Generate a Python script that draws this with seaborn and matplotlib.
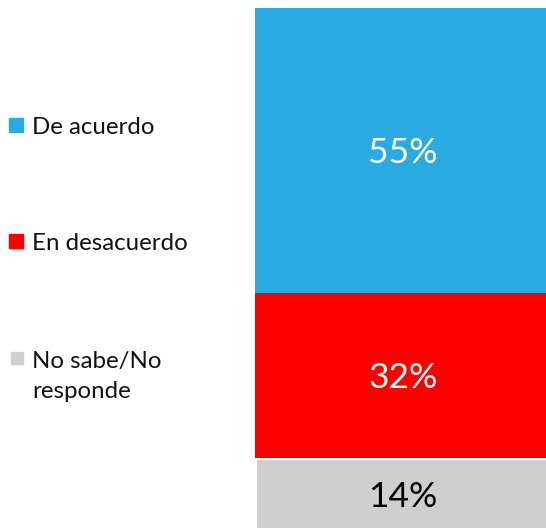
import numpy as np
import matplotlib
matplotlib.use("Agg")
import matplotlib.pyplot as plt
import seaborn as sns
from matplotlib.patches import Rectangle

# data (top of the bar first)
categories = ["De acuerdo", "En desacuerdo", "No sabe/No\nresponde"]
values = [55, 32, 14]
labels = ["55%", "32%", "14%"]
colors = ["#29ABE2", "#FF0000", "#CFCFCF"]
label_colors = ["white", "white", "black"]

sns.set_style("white")
plt.rcParams["font.family"] = ["Lato", "DejaVu Sans"]

fig = plt.figure(figsize=(5.46, 5.28), dpi=100)
ax = fig.add_axes([0, 0, 1, 1])

# stack from the bottom up: gray, red, blue
order = list(range(len(values)))[::-1]
bottom = 0
for i in order:
    edge = "white" if i == 2 else "none"
    lw = 2.2 if i == 2 else 0
    sns.barplot(x=[""], y=[values[i]], bottom=bottom, color=colors[i],
                saturation=1, width=0.8, edgecolor=edge, linewidth=lw, ax=ax)
    ax.text(0, bottom + values[i] / 2 - 0.5, labels[i], ha="center", va="center",
            color=label_colors[i], fontsize=25.5)
    bottom += values[i]

ax.set_xlim(-1.089, 0.3865)
ax.set_ylim(0.46, 102.59)
ax.axis("off")

# legend drawn by hand, in pixel coordinates of the figure
W, H = 546, 528
leg_y = [118, 234, 352]
for i, cat in enumerate(categories):
    sq = 14 if i < 2 else 12
    x0 = 9 if i < 2 else 11
    fig.add_artist(Rectangle((x0 / W, 1 - (leg_y[i] + sq) / H), sq / W, sq / H,
                             transform=fig.transFigure, color=colors[i]))
    for j, line in enumerate(cat.split("\n")):
        fig.text(32 / W, 1 - (leg_y[i] + 16 + 30 * j) / H, line, ha="left",
                 va="baseline", fontsize=17.3, color="#111111")

plt.savefig("out.png", dpi=100)
